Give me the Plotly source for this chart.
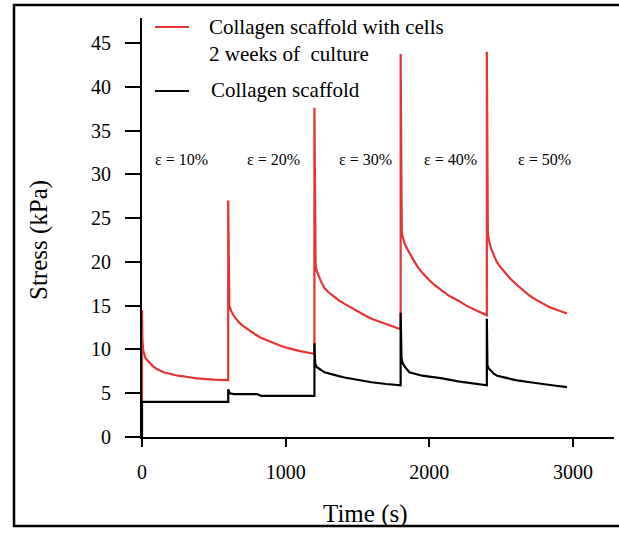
import plotly.graph_objects as go

# ---------------- data ----------------
time_cells = [0, 0, 3, 8, 15, 25, 40, 55, 75, 100, 150, 200, 250, 320, 380, 450, 500, 598,
              600, 600, 603, 608, 620, 640, 660, 680, 710, 750, 790, 820, 860, 900, 950,
              1005, 1050, 1100, 1150, 1195,
              1200, 1200, 1203, 1208, 1215, 1230, 1250, 1270, 1300, 1340, 1370, 1410, 1450,
              1500, 1550, 1597, 1650, 1700, 1750, 1795,
              1800, 1800, 1801, 1803, 1808, 1815, 1830, 1845, 1861, 1890, 1920, 1951, 2000,
              2040, 2090, 2140, 2200, 2256, 2320, 2396,
              2400, 2400, 2402, 2407, 2415, 2430, 2450, 2472, 2500, 2530, 2562, 2600, 2650,
              2701, 2750, 2800, 2840, 2900, 2958]
stress_cells = [4.0, 14.5, 11.1, 9.9, 9.4, 9.0, 8.7, 8.4, 8.1, 7.8, 7.4, 7.2, 7.0, 6.85, 6.7, 6.62, 6.55, 6.5,
                6.5, 27.0, 17.3, 15.0, 14.4, 13.8, 13.4, 13.0, 12.6, 12.1, 11.7, 11.4, 11.1, 10.8, 10.5,
                10.2, 10.0, 9.8, 9.65, 9.5,
                9.5, 37.6, 24.7, 19.8, 19.0, 18.3, 17.6, 17.0, 16.5, 16.0, 15.6, 15.2, 14.8,
                14.3, 13.9, 13.5, 13.2, 12.9, 12.6, 12.3,
                12.3, 43.75, 38.0, 25.6, 23.5, 22.8, 22.0, 21.5, 21.0, 20.2, 19.4, 18.75, 17.9,
                17.3, 16.7, 16.1, 15.6, 15.0, 14.5, 13.9,
                13.9, 44.0, 27.3, 23.3, 22.4, 21.5, 20.7, 19.9, 19.3, 18.7, 18.1, 17.5, 16.8,
                16.1, 15.6, 15.2, 14.8, 14.45, 14.1]

time_scaffold = [0, 0, 598, 600, 600, 610, 640, 800, 830, 1198,
                 1200, 1200, 1205, 1215, 1230, 1250, 1270, 1320, 1370, 1410, 1500, 1597, 1700, 1795,
                 1800, 1800, 1802, 1806, 1815, 1830, 1861, 1900, 1950, 2000, 2090, 2200, 2300, 2396,
                 2400, 2400, 2404, 2415, 2430, 2450, 2472, 2530, 2600, 2701, 2800, 2880, 2958]
stress_scaffold = [0.0, 4.0, 4.0, 4.0, 5.45, 5.0, 4.9, 4.9, 4.7, 4.7,
                   4.7, 10.7, 8.4, 8.0, 7.8, 7.6, 7.4, 7.15, 6.95, 6.8, 6.5, 6.25, 6.05, 5.9,
                   5.9, 14.2, 12.4, 9.0, 8.4, 8.0, 7.4, 7.2, 7.0, 6.9, 6.7, 6.35, 6.1, 5.9,
                   5.9, 13.5, 8.2, 7.8, 7.5, 7.2, 7.0, 6.75, 6.5, 6.25, 6.0, 5.85, 5.7]

x_tick_vals = [0, 1000, 2000, 3000]
x_tick_text = ["0", "1000", "2000", "3000"]
y_tick_vals = [0, 5, 10, 15, 20, 25, 30, 35, 40, 45]
y_tick_text = ["0", "5", "10", "15", "20", "25", "30", "35", "40", "45"]

strain_labels = ["ε = 10%", "ε = 20%", "ε = 30%", "ε = 40%", "ε = 50%"]
legend_cells = "Collagen scaffold with cells"
legend_cells_2 = "2 weeks of  culture"
legend_scaffold = "Collagen scaffold"

# ---------------- layout helpers ----------------
W, H = 619, 536
L, R, T, B = 142, 5, 18, 99
PW, PH = W - L - R, H - T - B


def px(x):
    return (x - L) / PW


def py(y):
    return (H - B - y) / PH


FONT = "Liberation Serif"
RED = "#e63232"


def f(size):
    return dict(family=FONT, size=size, color="black")


fig = go.Figure()
fig.add_trace(go.Scatter(x=time_cells, y=stress_cells, mode="lines",
                         line=dict(color=RED, width=2.2), name=legend_cells,
                         showlegend=False))
fig.add_trace(go.Scatter(x=time_scaffold, y=stress_scaffold, mode="lines",
                         line=dict(color="black", width=2.2), name=legend_scaffold,
                         showlegend=False))

fig.update_layout(
    width=W, height=H,
    margin=dict(l=L, r=R, t=T, b=B, pad=0),
    paper_bgcolor="white", plot_bgcolor="white",
    font=f(20),
    xaxis=dict(range=[0, 3285], tickvals=x_tick_vals, ticktext=x_tick_text,
               showgrid=False, zeroline=False, showline=True, linecolor="black",
               linewidth=2, ticks="outside", ticklen=8, tickwidth=2,
               tickcolor="black", tickfont=f(20), ticklabelstandoff=8),
    yaxis=dict(range=[0, 47.85], tickvals=y_tick_vals, ticktext=y_tick_text,
               showgrid=False, zeroline=False, showline=True, linecolor="black",
               linewidth=2, ticks="outside", ticklen=15, tickwidth=2,
               tickcolor="black", tickfont=f(20), ticklabelstandoff=10),
)

shapes = [
    # outer frame
    dict(type="rect", xref="paper", yref="paper", x0=px(14), x1=px(660),
         y0=py(526), y1=py(5), line=dict(color="black", width=2.5)),
    # legend samples
    dict(type="line", xref="paper", yref="paper", x0=px(155), x1=px(189),
         y0=py(27), y1=py(27), line=dict(color=RED, width=2)),
    dict(type="line", xref="paper", yref="paper", x0=px(155), x1=px(189),
         y0=py(91), y1=py(91), line=dict(color="black", width=2)),
]
fig.update_layout(shapes=shapes)

ann = [
    dict(text=legend_cells, x=px(207), y=py(27), xanchor="left", yanchor="middle",
         font=f(21)),
    dict(text=legend_cells_2, x=px(207), y=py(54), xanchor="left", yanchor="middle",
         font=f(21)),
    dict(text=legend_scaffold, x=px(209), y=py(90), xanchor="left", yanchor="middle",
         font=f(21)),
    dict(text="Stress (kPa)", x=px(39), y=py(240), textangle=-90,
         xanchor="center", yanchor="middle", font=f(25)),
    dict(text="Time (s)", x=px(365), y=py(514), xanchor="center",
         yanchor="middle", font=f(25)),
]
for lab, cx in zip(strain_labels, [181, 273, 365, 450, 544]):
    ann.append(dict(text=lab, x=px(cx), y=py(159), xanchor="center",
                    yanchor="middle", font=f(16)))
for a in ann:
    a.update(xref="paper", yref="paper", showarrow=False)
fig.update_layout(annotations=ann)

fig.write_html("out.html", config={"displayModeBar": False},
               post_script="document.body.style.margin='0px';")
